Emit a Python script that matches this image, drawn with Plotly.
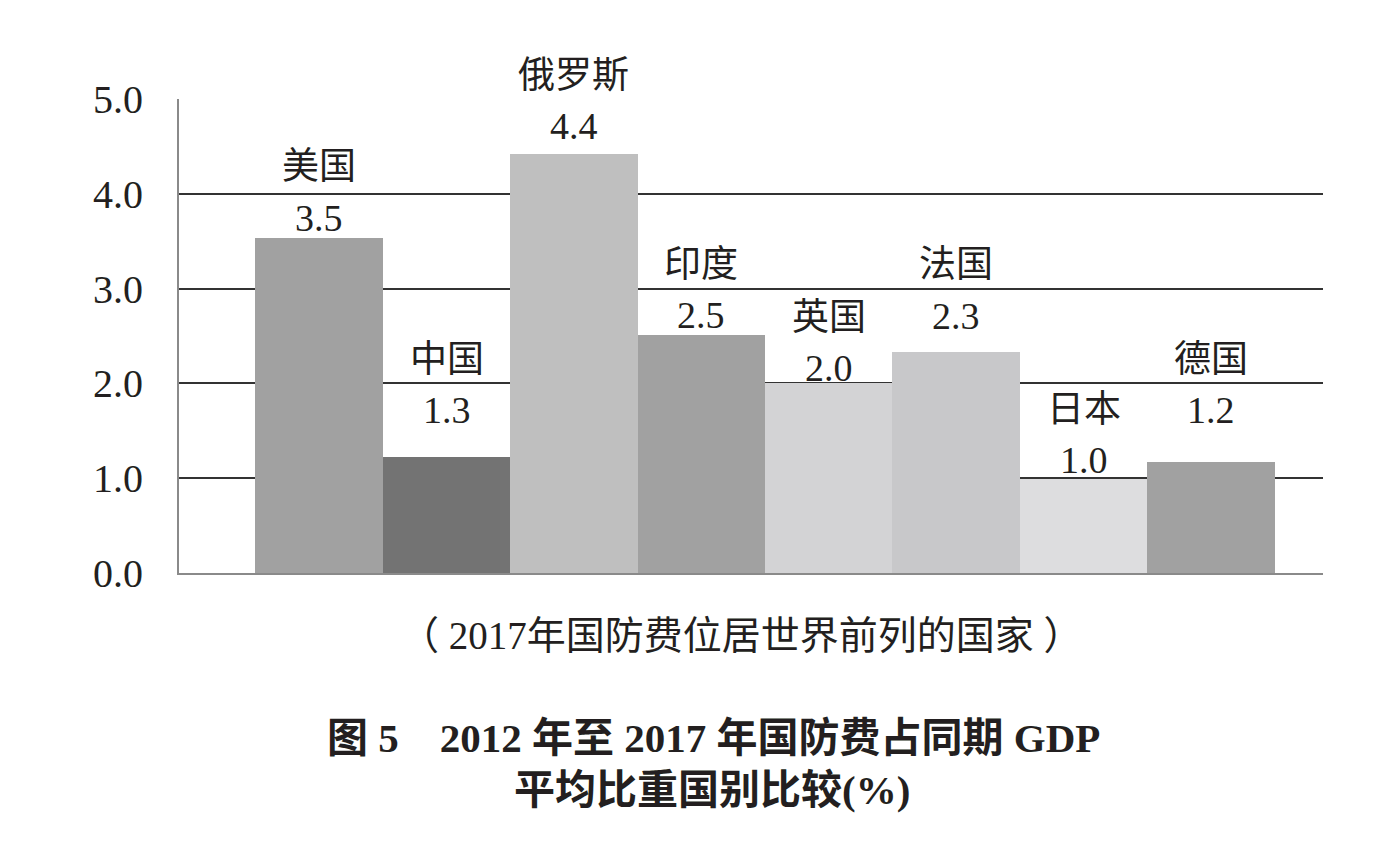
import plotly.graph_objects as go

# ---- data ----
countries = ["美国", "中国", "俄罗斯", "印度", "英国", "法国", "日本", "德国"]
bar_values = [3.53, 1.22, 4.42, 2.51, 2.0, 2.33, 0.99, 1.17]
value_labels = ["3.5", "1.3", "4.4", "2.5", "2.0", "2.3", "1.0", "1.2"]
y_ticks = [0, 1, 2, 3, 4, 5]
y_max = 5.0

subtitle = "（ 2017年国防费位居世界前列的国家 ）"
title_line1 = "图 5　2012 年至 2017 年国防费占同期 GDP"
title_line2 = "平均比重国别比较(%)"

# ---- styles / label positions (in y-axis units) ----
bar_colors = ["#a1a1a1", "#737373", "#bfbfbf", "#a1a1a1",
              "#d3d3d5", "#c8c8ca", "#dddddf", "#a1a1a1"]
name_label_y = [4.29, 2.25, 5.25, 3.25, 2.69, 3.25, 1.72, 2.25]
value_label_y = [3.74, 1.72, 4.72, 2.72, 2.16, 2.71, 1.19, 1.72]

FONT = "Liberation Serif, 'Noto Sans CJK SC', serif"
TXT = "#231f20"

fig = go.Figure()
fig.add_trace(go.Bar(
    x=countries, y=bar_values,
    marker=dict(color=bar_colors, line=dict(width=0)),
    hoverinfo="skip",
))

annotations = []
for c, ny, vy, vl in zip(countries, name_label_y, value_label_y, value_labels):
    annotations.append(dict(x=c, y=ny / y_max, xref="x", yref="paper", text=c, showarrow=False,
                            yanchor="middle", font=dict(family=FONT, size=37, color=TXT)))
    annotations.append(dict(x=c, y=vy / y_max, xref="x", yref="paper", text=vl, showarrow=False,
                            yanchor="middle", font=dict(family=FONT, size=38, color=TXT)))

annotations.append(dict(x=0.492, y=-0.131, xref="paper", yref="paper", text=subtitle,
                        showarrow=False, yanchor="middle",
                        font=dict(family=FONT, size=39, color=TXT)))
annotations.append(dict(x=0.467, y=-0.348, xref="paper", yref="paper",
                        text="<b>" + title_line1 + "</b>",
                        showarrow=False, yanchor="middle",
                        font=dict(family=FONT, size=41, color=TXT)))
annotations.append(dict(x=0.466, y=-0.458, xref="paper", yref="paper",
                        text="<b>" + title_line2 + "</b>",
                        showarrow=False, yanchor="middle",
                        font=dict(family=FONT, size=41, color=TXT)))

fig.update_layout(
    width=1392, height=849,
    margin=dict(l=171, r=77, t=91, b=284),
    paper_bgcolor="white", plot_bgcolor="white",
    bargap=0,
    showlegend=False,
    annotations=annotations,
    xaxis=dict(type="category", range=[-1.1, 7.88], showticklabels=False,
               showgrid=False, zeroline=False, showline=True,
               linecolor="#8a8a8a", linewidth=2, ticks=""),
    yaxis=dict(range=[0, y_max], tickvals=y_ticks, tickformat=".1f",
               showgrid=True, gridcolor="#333333", gridwidth=1.6,
               zeroline=False, showline=True, linecolor="#8a8a8a", linewidth=2,
               ticks="", ticklabelstandoff=26,
               tickfont=dict(family=FONT, size=40, color=TXT)),
)

fig.write_html("out.html")
